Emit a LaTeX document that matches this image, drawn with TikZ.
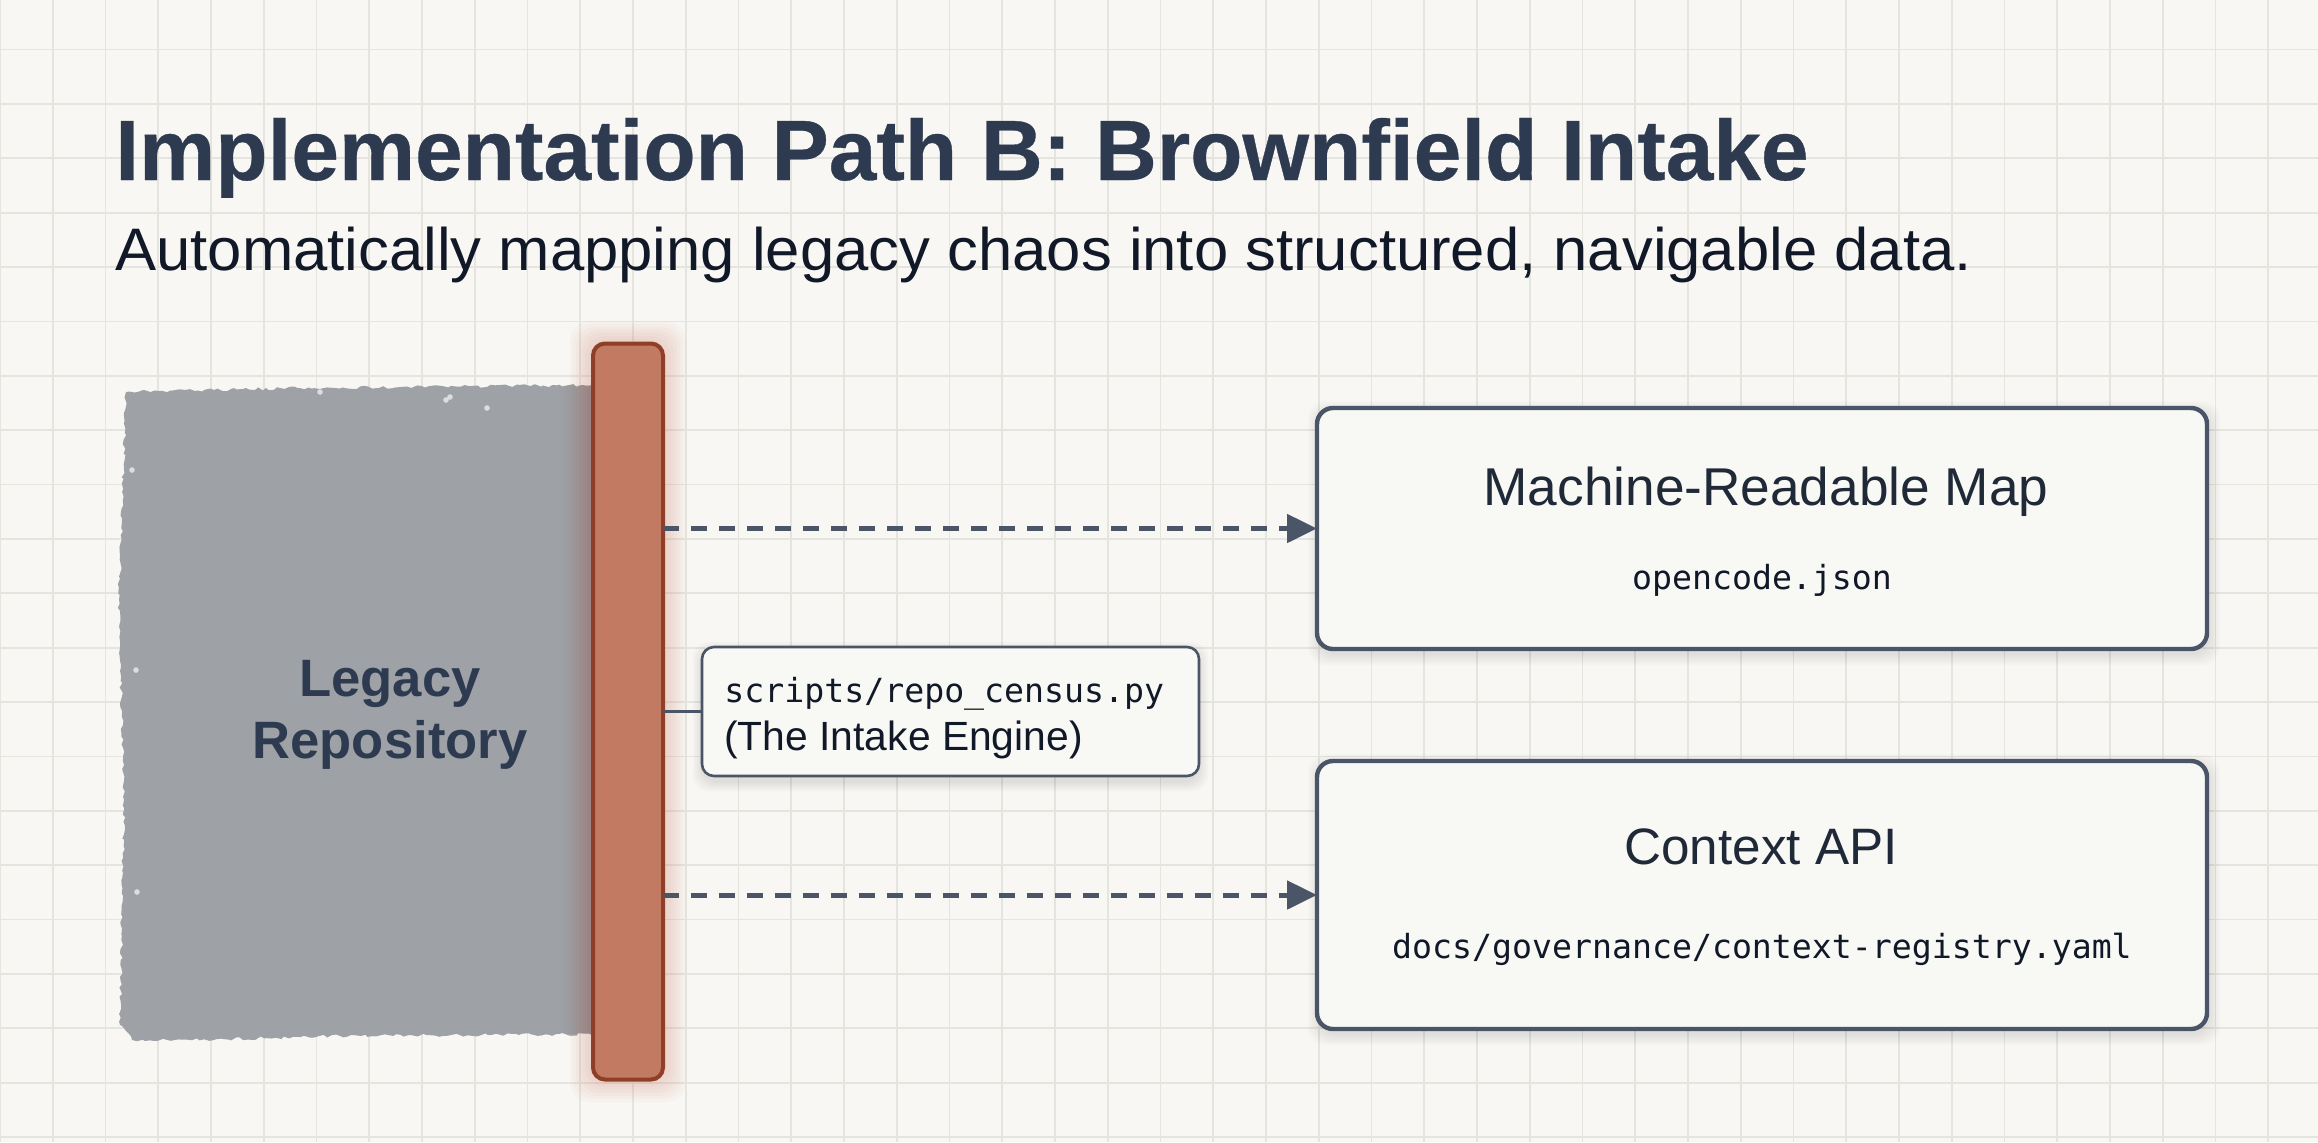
\documentclass[tikz,border=0pt]{standalone}
\usepackage{fontspec}
\setmainfont{Liberation Sans}
\newfontfamily\codefont{DejaVu Sans Mono}
\usetikzlibrary{arrows.meta,decorations.pathmorphing,calc}
\definecolor{paper}{HTML}{F8F7F3}
\definecolor{gridc}{HTML}{E5E5E0}
\definecolor{slate}{HTML}{4A5568}
\definecolor{ink}{HTML}{2D3A50}
\definecolor{darkink}{HTML}{1F2937}
\definecolor{nearblack}{HTML}{111827}
\definecolor{repo}{HTML}{9EA2A6}
\definecolor{brick}{HTML}{C27B62}
\definecolor{brickedge}{HTML}{8F3F28}
\definecolor{boxfill}{HTML}{F8F8F5}
\tikzset{
  x=0.5pt,y=-0.5pt,
  outbox/.style={draw=slate,line width=2.2pt,fill=boxfill,rounded corners=8pt,minimum width=445pt,inner sep=0pt,outer sep=0pt},
  callout/.style={draw=slate,line width=1.3pt,fill=boxfill,rounded corners=6pt,minimum width=248.5pt,minimum height=64.5pt,inner sep=0pt,outer sep=0pt},
  barbox/.style={draw=brickedge,line width=2pt,fill=brick,rounded corners=6pt,minimum width=35pt,minimum height=368pt,inner sep=0pt,outer sep=0pt},
  flow/.style={draw=slate,line width=2.5pt,dash pattern=on 8pt off 6pt,-{Triangle[length=15pt,width=14pt]}},
  tie/.style={draw=slate,line width=1.2pt},
  code/.style={font=\codefont\fontsize{16.6}{20}\selectfont,text=nearblack},
}
\begin{document}
\begin{tikzpicture}
\useasboundingbox (0,0) rectangle (2318,1142);
\fill[paper] (0,0) rectangle (2318,1142);
% grid
\foreach \k in {0,...,43} \draw[gridc,line width=0.9pt] ({52.75*\k},0) -- ({52.75*\k},1142);
\foreach \k in {0,...,20} \draw[gridc,line width=0.9pt] (0,{49.5+54.38*\k}) -- (2318,{49.5+54.38*\k});
% repository block
\pgfmathsetseed{7}
\fill[repo,decorate,decoration={random steps,segment length=2pt,amplitude=0.8pt}]
  (126,392) -- (300,388) -- (600,385) -- (600,1034) -- (340,1036) -- (190,1040) -- (132,1040) -- (120,1025) -- (124,800) -- (119,600) -- cycle;
\foreach \x/\y in {446/400,487/408,136/670,137/892,450/397,320/392,132/470} \fill[paper,opacity=0.7] (\x,\y) circle (1.4pt);
\foreach \w in {4,8,...,32} \fill[black!45!brick,opacity=0.016] ({591-\w},385) rectangle (595,1034);
% glow around the bar
\foreach \r in {3,6,...,21} \fill[brick!85!red,opacity=0.035,rounded corners=10pt] ({591-\r},{342-\r}) rectangle ({665+\r},{1081+\r});
% shadows
\foreach \r in {1,3,...,9} \fill[black,opacity=0.018,rounded corners=8pt] ({702-\r},{651-\r}) rectangle ({1199+\r},{782+\r});
\foreach \r in {1,3,...,11} {\fill[black,opacity=0.016,rounded corners=9pt] ({1319-\r},{412-\r}) rectangle ({2209+\r},{654+\r});
  \fill[black,opacity=0.016,rounded corners=9pt] ({1319-\r},{765-\r}) rectangle ({2209+\r},{1034+\r});}
% nodes
\node[barbox] (bar) at (628,711.5) {};
\node[font=\bfseries\fontsize{26.3}{31}\selectfont,text=ink,align=center,inner sep=0pt] (legacy) at (390,715) {Legacy\\Repository};
\node[outbox,minimum height=120.5pt] (map) at (1762,528.5) {};
\node[outbox,minimum height=134pt] (ctx) at (1762,895) {};
\node[callout] (engine) at (950.5,711.5) {};
\node[font=\fontsize{26.6}{31}\selectfont,text=darkink,anchor=base] (maptitle) at (1766,505) {Machine-Readable Map};
\node[code,anchor=base] (mapfile) at (1762,589) {opencode.json};
\node[font=\fontsize{25.6}{31}\selectfont,text=darkink,anchor=base] (ctxtitle) at (1761,864) {Context API};
\node[code,anchor=base] (ctxfile) at (1762,958) {docs/governance/context-registry.yaml};
\node[anchor=base west,inner sep=0pt,font=\codefont\fontsize{16.6}{20}\selectfont,text=nearblack] (enginefile) at (724,702) {scripts/repo\_census.py};
\node[anchor=base west,inner sep=0pt,font=\fontsize{20.4}{24}\selectfont,text=nearblack] (enginename) at (724,750) {(The Intake Engine)};
\node[anchor=base west,inner sep=0pt,font=\bfseries\fontsize{42.8}{52}\selectfont\addfontfeature{FakeBold=0.4},text=ink] (title) at (115,180) {Implementation Path B: Brownfield Intake};
\node[anchor=base west,inner sep=0pt,font=\fontsize{30}{36}\selectfont\addfontfeature{FakeStretch=1.027},text=nearblack] (subtitle) at (115,270) {Automatically mapping legacy chaos into structured, navigable data.};
% connectors
\draw[flow] (bar.east |- map.west) -- (map.west);
\draw[flow] (bar.east |- ctx.west) -- (ctx.west);
\draw[tie] (bar.east |- engine.west) -- (engine.west);
\end{tikzpicture}
\end{document}
